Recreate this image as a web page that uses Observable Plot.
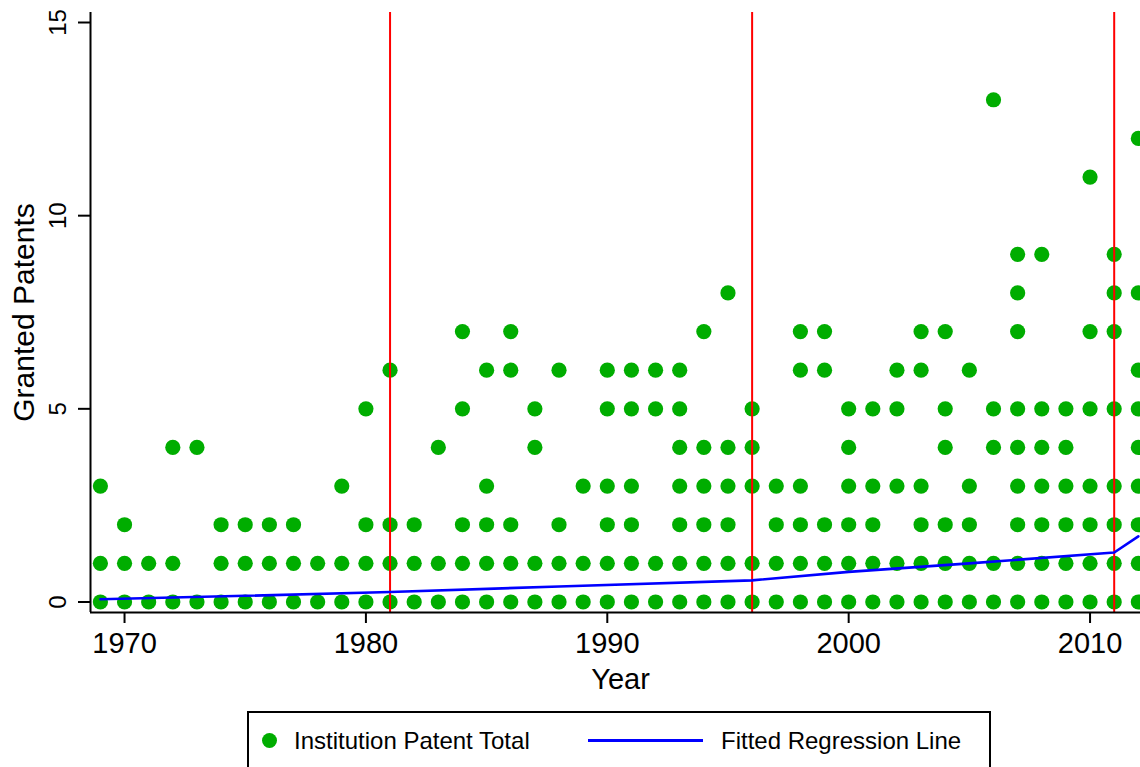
<!DOCTYPE html>
<html>
<head>
<meta charset="utf-8">
<script src="https://cdn.jsdelivr.net/npm/d3@7"></script>
<script src="https://cdn.jsdelivr.net/npm/@observablehq/plot@0.6"></script>
<style>
  html, body { margin: 0; padding: 0; background: #fff; }
  body { font-family: "Liberation Sans", Arial, Helvetica, sans-serif; }
  #wrap { position: relative; width: 1140px; height: 767px; overflow: hidden; background: #fff; }
  #chart svg { display: block; }
  .lg-box { position: absolute; left: 247px; top: 711px; width: 744px; height: 90px; border: 2px solid #000; box-sizing: border-box; }
  .lg-dot { position: absolute; left: 261.5px; top: 732.5px; width: 15px; height: 15px; border-radius: 50%; background: #00ad00; }
  .lg-line { position: absolute; left: 588px; top: 739px; width: 115px; height: 2.5px; background: #0000ff; }
  .lg-text { position: absolute; top: 728.7px; font-size: 24px; line-height: 24px; color: #000; white-space: nowrap; }
</style>
</head>
<body>
<div id="wrap">
  <div id="chart"></div>
  <div class="lg-box"></div>
  <div class="lg-dot"></div>
  <div class="lg-text" style="left:294px">Institution Patent Total</div>
  <div class="lg-line"></div>
  <div class="lg-text" style="left:721px">Fitted Regression Line</div>
</div>
<script>
// ---- data ----
const years = [1969,1970,1971,1972,1973,1974,1975,1976,1977,1978,1979,1980,1981,1982,1983,1984,1985,1986,1987,1988,1989,1990,1991,1992,1993,1994,1995,1996,1997,1998,1999,2000,2001,2002,2003,2004,2005,2006,2007,2008,2009,2010,2011,2012];
const patentCounts = [
  [0,1,3],          // 1969
  [0,1,2],          // 1970
  [0,1],            // 1971
  [0,1,4],          // 1972
  [0,4],            // 1973
  [0,1,2],          // 1974
  [0,1,2],          // 1975
  [0,1,2],          // 1976
  [0,1,2],          // 1977
  [0,1],            // 1978
  [0,1,3],          // 1979
  [0,1,2,5],        // 1980
  [0,1,2,6],        // 1981
  [0,1,2],          // 1982
  [0,1,4],          // 1983
  [0,1,2,5,7],      // 1984
  [0,1,2,3,6],      // 1985
  [0,1,2,6,7],      // 1986
  [0,1,4,5],        // 1987
  [0,1,2,6],        // 1988
  [0,1,3],          // 1989
  [0,1,2,3,5,6],    // 1990
  [0,1,2,3,5,6],    // 1991
  [0,1,5,6],        // 1992
  [0,1,2,3,4,5,6],  // 1993
  [0,1,2,3,4,7],    // 1994
  [0,1,2,3,4,8],    // 1995
  [0,1,3,4,5],      // 1996
  [0,1,2,3],        // 1997
  [0,1,2,3,6,7],    // 1998
  [0,1,2,6,7],      // 1999
  [0,1,2,3,4,5],    // 2000
  [0,1,2,3,5],      // 2001
  [0,1,3,5,6],      // 2002
  [0,1,2,3,6,7],    // 2003
  [0,1,2,4,5,7],    // 2004
  [0,1,2,3,6],      // 2005
  [0,1,4,5,13],     // 2006
  [0,1,2,3,4,5,7,8,9], // 2007
  [0,1,2,3,4,5,9],  // 2008
  [0,1,2,3,4,5],    // 2009
  [0,1,2,3,5,7,11], // 2010
  [0,1,2,3,5,7,8,9],// 2011
  [0,1,2,3,4,5,6,8,12] // 2012
];
const fitYears  = [1969, 1975, 1981, 1988, 1996, 2000, 2005, 2011, 2012];
const fitValues = [0.07, 0.16, 0.26, 0.40, 0.56, 0.78, 1.00, 1.28, 1.70];
const breakYears = [1981, 1996, 2011];
const xTicks = [1970, 1980, 1990, 2000, 2010];
const yTicks = [0, 5, 10, 15];
const xDomain = [1968.59, 2012.09];
const yDomain = [-0.272, 15.259];

// ---- tables for Plot ----
const points = years.flatMap((yr, i) => patentCounts[i].map(v => ({year: yr, patents: v})));
const fit = fitYears.map((yr, i) => ({year: yr, value: fitValues[i]}));

const font = '"Liberation Sans", Arial, Helvetica, sans-serif';

const chart = Plot.plot({
  width: 1140,
  height: 705,
  marginLeft: 90,
  marginRight: 0,
  marginTop: 12,
  marginBottom: 93,
  style: {fontFamily: font, background: "#fff", color: "#000", overflow: "hidden"},
  x: {domain: xDomain},
  y: {domain: yDomain},
  marks: [
    Plot.dot(points, {x: "year", y: "patents", r: 7.6, fill: "#00ad00", stroke: null}),
    Plot.ruleX(breakYears, {stroke: "#ff0000", strokeWidth: 2}),
    Plot.line(fit, {x: "year", y: "value", stroke: "#0000ff", strokeWidth: 2.6}),
    Plot.ruleY([yDomain[0]], {stroke: "#000", strokeWidth: 2}),
    Plot.ruleX([xDomain[0]], {stroke: "#000", strokeWidth: 2}),
    Plot.axisX({ticks: xTicks, tickSize: 11, tickPadding: 9, fontSize: 29, tickFormat: d => String(d), label: null, strokeWidth: 2}),
    Plot.axisY({ticks: yTicks, tickSize: 12, tickFormat: () => "", label: null, strokeWidth: 2}),
    Plot.text(yTicks, {frameAnchor: "left", y: d => d, text: d => String(d), rotate: -90, textAnchor: "middle", lineAnchor: "bottom", dx: -25, fontSize: 24}),
    Plot.text(["Granted Patents"], {frameAnchor: "left", text: d => d, rotate: -90, textAnchor: "middle", lineAnchor: "bottom", dx: -56.5, fontSize: 30}),
    Plot.text(["Year"], {frameAnchor: "bottom", text: d => d, textAnchor: "middle", lineAnchor: "bottom", dx: 5, dy: 76, fontSize: 29})
  ]
});
document.getElementById("chart").appendChild(chart);
</script>
</body>
</html>
